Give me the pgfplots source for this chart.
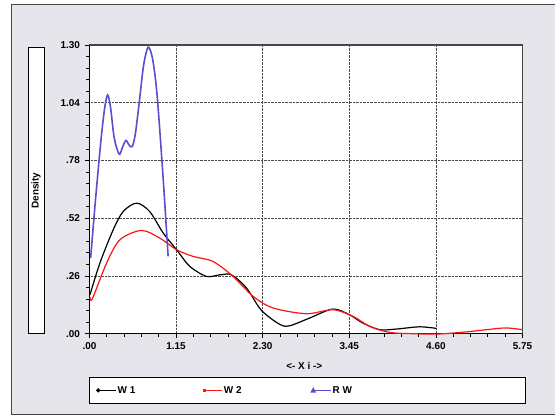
\documentclass[border=0pt]{standalone}
\usepackage{fontspec}
\setmainfont{Liberation Sans}
\usepackage{pgfplots}
\pgfplotsset{compat=1.18}
\definecolor{bgc}{RGB}{231,229,236}
\definecolor{rwblue}{RGB}{88,78,208}
\definecolor{wred}{RGB}{250,20,20}
\definecolor{frame}{RGB}{70,70,70}
\begin{document}
\begin{tikzpicture}[x=1bp,y=1bp,font=\fontsize{10}{12}\selectfont\bfseries]
\fill[white] (0,0) rectangle (555,416);
\fill[bgc] (11.5,1) rectangle (555,411.3);
\draw[frame,line width=1bp] (555,411.3) -- (11.5,411.3) -- (11.5,1) -- (555,1);
% Density box
\draw[black,fill=white,line width=0.8bp] (28,82) rectangle (44.3,368.7);
\node[rotate=90] at (36.2,225.3) {Density};
% legend box
\draw[black,fill=white,line width=1bp] (90,12) rectangle (525.5,37.7);
% x label
\node at (304.5,49.3) {<- X i ->};
\begin{axis}[
  at={(89.5bp,82bp)}, anchor=south west,
  scale only axis, width=433.5bp, height=289bp,
  xmin=0, xmax=5.75, ymin=0, ymax=1.30,
  axis background/.style={fill=white},
  clip=false,
  xtick={0,1.15,2.30,3.45,4.60,5.75},
  xticklabels={.00,1.15,2.30,3.45,4.60,5.75},
  ytick={0,0.26,0.52,0.78,1.04,1.30},
  yticklabels={.00,.26,.52,.78,1.04,1.30},
  minor x tick num=4, minor y tick num=4,
  tick align=outside, xtick pos=bottom, ytick pos=left,
  major tick length=4bp, minor tick length=3bp,
  tick style={black, line width=0.8bp},
  grid=major,
  major grid style={densely dotted, black!70, line width=0.7bp},
  axis line style={black, line width=1bp},
  ticklabel style={font=\fontsize{10}{12}\selectfont\bfseries},
  xticklabel style={yshift=-1.5bp},
  yticklabel style={xshift=-2bp},
  legend style={at={(axis description cs:0.0155,-0.197)}, anchor=west,
    draw=none, fill=none, inner sep=0pt, outer sep=0pt,
    nodes={inner sep=1bp}, legend columns=3,
    font=\fontsize{10}{12}\selectfont\bfseries},
]
\addplot[black, line width=1.2bp, smooth, tension=0.5,
  legend image code/.code={\draw[black,line width=1bp] (0,0) -- (18bp,0); \fill[black] (0,0) circle (1.4bp);}]
  coordinates {
(0.007,0.175) (0.139,0.318) (0.316,0.468) (0.448,0.550) (0.626,0.588)
(0.80,0.550) (0.98,0.453) (1.157,0.378) (1.333,0.303) (1.554,0.258)
(1.731,0.265) (1.886,0.265) (2.085,0.206) (2.284,0.105) (2.527,0.042)
(2.66,0.036) (2.92,0.070) (3.23,0.111) (3.455,0.085) (3.63,0.048)
(3.853,0.018) (4.075,0.021) (4.384,0.031) (4.605,0.024)
};
\addlegendentry{\makebox[84bp][l]{W 1}}
\addplot[wred, line width=1.2bp, smooth, tension=0.5,
  legend image code/.code={\draw[wred,line width=1bp] (0,0) -- (18bp,0); \fill[wred] (-1.3bp,-1.3bp) rectangle (1.3bp,1.3bp);}]
  coordinates {
(0.007,0.165) (0.04,0.158) (0.228,0.318) (0.405,0.423) (0.692,0.465)
(0.935,0.430) (1.157,0.378) (1.377,0.348) (1.642,0.325) (1.907,0.258)
(2.173,0.168) (2.438,0.116) (2.88,0.090) (3.234,0.108) (3.50,0.078)
(3.72,0.033) (3.985,0.006) (4.29,0.0) (4.65,-0.001) (5.0,0.008)
(5.27,0.018) (5.53,0.026) (5.75,0.018)
};
\addlegendentry{\makebox[86bp][l]{W 2}}
\addplot[rwblue, line width=1.6bp, smooth, tension=0.5,
  legend image code/.code={\draw[rwblue,line width=1bp] (0,0) -- (18bp,0); \fill[rwblue] (-1.6bp,-1.3bp) -- (1.6bp,-1.3bp) -- (0,1.5bp) -- cycle;}]
  coordinates {
(0.016,0.340) (0.08,0.60) (0.15,0.86) (0.20,1.01) (0.241,1.075)
(0.28,1.02) (0.33,0.88) (0.395,0.808) (0.44,0.84) (0.484,0.870)
(0.53,0.848) (0.568,0.843) (0.61,0.90) (0.67,1.067) (0.72,1.21)
(0.78,1.29) (0.84,1.235) (0.90,1.067) (0.98,0.693) (1.045,0.348)
};
\addlegendentry{R W}
\draw[frame, line width=1.5bp] (rel axis cs:0,1) -- (rel axis cs:1,1) -- (rel axis cs:1,0);
\end{axis}
\end{tikzpicture}
\end{document}
